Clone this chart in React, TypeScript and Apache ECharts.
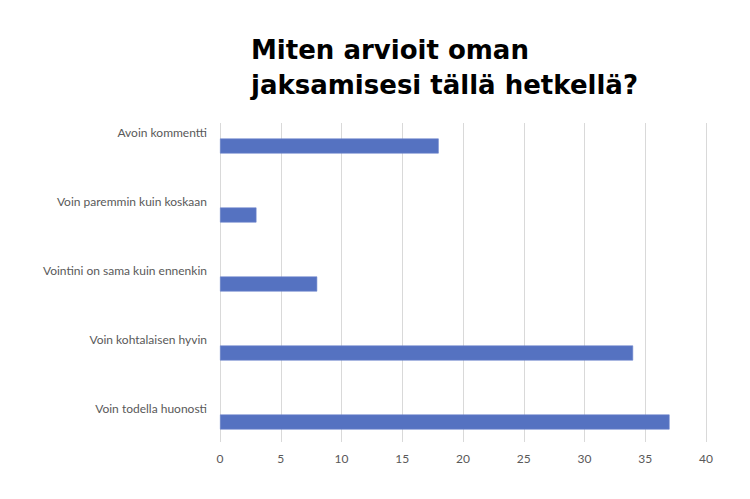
import React, { useEffect, useRef } from "react";
import * as echarts from "echarts";

const titleText = "Miten arvioit oman\njaksamisesi tällä hetkellä?";
const categories = [
  "Voin todella huonosti",
  "Voin kohtalaisen hyvin",
  "Vointini on sama kuin ennenkin",
  "Voin paremmin kuin koskaan",
  "Avoin kommentti",
];
const values = [37, 34, 8, 3, 18];
const axisMin = 0;
const axisMax = 40;
const axisStep = 5;

export default function App() {
  const ref = useRef<HTMLDivElement>(null);
  useEffect(() => {
    if (!ref.current) return;
    const chart = echarts.init(ref.current, null, { renderer: "svg" });
    const labelFont = "Lato, 'Noto Sans', sans-serif";
    chart.setOption({
      animation: false,
      backgroundColor: "#ffffff",
      title: {
        text: titleText,
        left: 251,
        top: 32,
        padding: 0,
        textStyle: {
          fontFamily: "'DejaVu Sans', sans-serif",
          fontWeight: "bold",
          fontSize: 26,
          lineHeight: 35,
          color: "#000000",
        },
      },
      grid: [
        { left: 220, right: 44, top: 123, bottom: 57 },
        { left: 220, right: 44, top: 111.5, height: 345 },
      ],
      xAxis: [
        {
          type: "value",
          gridIndex: 0,
          min: axisMin,
          max: axisMax,
          interval: axisStep,
          axisLine: { show: false },
          axisTick: { show: false },
          splitLine: { show: true, lineStyle: { color: "#d9d9d9", width: 1 } },
          axisLabel: { color: "#595959", fontSize: 12, fontFamily: labelFont, margin: 10 },
        },
        {
          type: "value",
          gridIndex: 1,
          min: axisMin,
          max: axisMax,
          show: false,
        },
      ],
      yAxis: [
        { type: "category", gridIndex: 0, data: categories, show: false },
        {
          type: "category",
          gridIndex: 1,
          data: categories,
          axisLine: { show: false },
          axisTick: { show: false },
          splitLine: { show: false },
          axisLabel: {
            color: "#595959",
            fontSize: 12,
            fontFamily: labelFont,
            margin: 13,
            verticalAlign: "bottom",
            lineHeight: 28,
          },
        },
      ],
      series: [
        {
          type: "bar",
          xAxisIndex: 1,
          yAxisIndex: 1,
          data: values,
          barWidth: 15,
          itemStyle: { color: "#5572c1", borderColor: "#6b85cc", borderWidth: 0.6 },
        },
      ],
    });
    return () => chart.dispose();
  }, []);
  return (
    <div
      ref={ref}
      style={{ position: "fixed", left: 0, top: 0, width: 750, height: 499 }}
    />
  );
}
